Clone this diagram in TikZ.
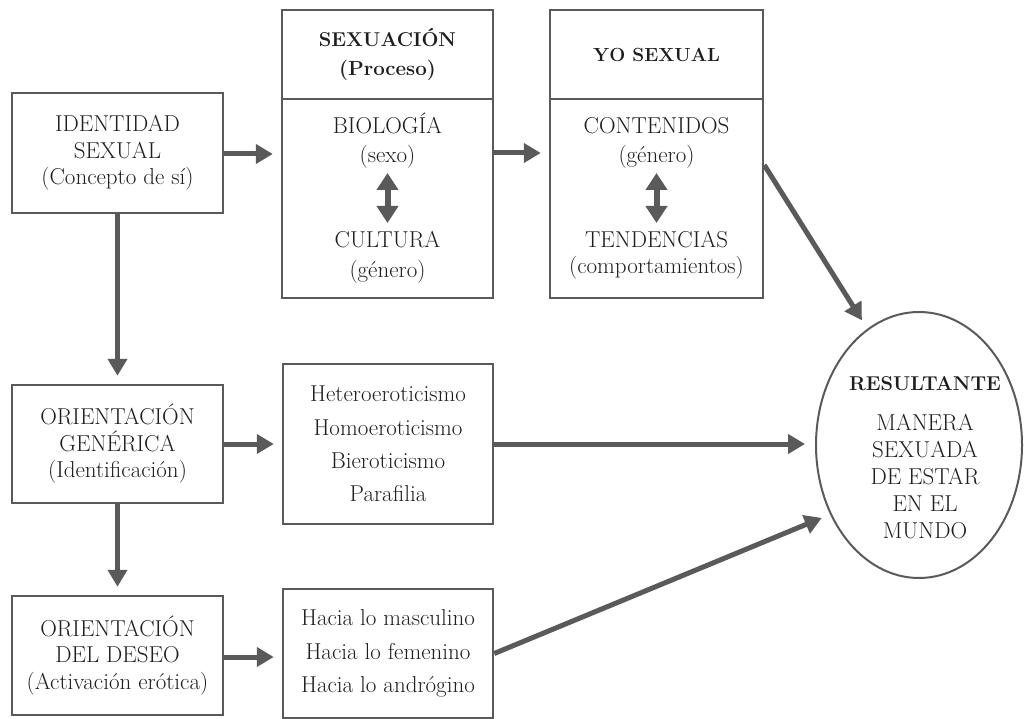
\documentclass[tikz,border=0pt]{standalone}
\usepackage{fontspec}
\usetikzlibrary{arrows.meta,shapes.geometric}
\definecolor{ln}{HTML}{5A5A5A}
\definecolor{tx}{HTML}{1E1E1E}
\begin{document}
\begin{tikzpicture}[x=1pt,y=-1pt,
  box/.style={draw=ln,line width=2.5pt,minimum width=211pt,inner sep=0pt,align=center,text=tx,font=\fontsize{23}{26.5}\selectfont},
  txt/.style={inner sep=0pt,align=center,text=tx,font=\fontsize{23}{26.5}\selectfont},
  arr/.style={draw=ln,line width=5pt,-{Triangle[length=17pt,width=19pt]},shorten >=8pt},
  darr/.style={draw=ln,line width=6pt,{Triangle[length=17pt,width=21pt]}-{Triangle[length=17pt,width=21pt]}},
]
\useasboundingbox (0,0) rectangle (1027,719);

% left column
\node[box,minimum height=120pt] (ids) at (117.5,153) {IDENTIDAD\\SEXUAL\\(Concepto de sí)};
\node[box,minimum height=118pt] (ogen) at (117.5,444) {ORIENTACIÓN\\GENÉRICA\\(Identificación)};
\node[box,minimum height=119pt] (odes) at (117.5,655.5) {ORIENTACIÓN\\DEL DESEO\\(Activación erótica)};

% SEXUACION
\node[box,minimum height=89pt,font=\fontsize{20}{29}\selectfont\bfseries] (sexh) at (387.5,54.5) {SEXUACIÓN\\{\fontsize{20.5}{29}\selectfont (Proceso)}};
\node[box,minimum height=199pt] (sexb) at (387.5,198.5) {};
\node[txt,font=\fontsize{23}{29}\selectfont] (bio) at (387.5,140.5) {BIOLOGÍA\\(sexo)};
\node[txt,font=\fontsize{23}{30}\selectfont] (cult) at (387.5,257.4) {CULTURA\\(género)};
\coordinate (bioA) at (387.5,173);
\coordinate (bioB) at (387.5,223);
\draw[darr] (bioA) -- (bioB);

% YO SEXUAL
\node[box,minimum width=213pt,minimum height=89pt,font=\fontsize{19}{26}\selectfont\bfseries] (yoh) at (656.5,54.5) {YO SEXUAL};
\node[box,minimum width=213pt,minimum height=199pt] (yob) at (656.5,198.5) {};
\node[txt,font=\fontsize{23}{29}\selectfont] (cont) at (656.5,142.9) {CONTENIDOS\\(género)};
\node[txt,font=\fontsize{23}{26}\selectfont] (tend) at (656.5,255) {TENDENCIAS\\(comportamientos)};
\coordinate (yoA) at (656.5,173);
\coordinate (yoB) at (656.5,223);
\draw[darr] (yoA) -- (yoB);

% lists
\node[box,minimum width=210pt,minimum height=160pt,font=\fontsize{23}{33.3}\selectfont] (het) at (388,444) {Heteroeroticismo\\Homoeroticismo\\Bieroticismo\\Parafilia};
\node[box,minimum width=210pt,minimum height=129pt,font=\fontsize{23}{33.5}\selectfont] (hac) at (388,653.5) {Hacia lo masculino\\Hacia lo femenino\\Hacia lo andrógino};

% resultante
\node[ellipse,draw=ln,line width=2pt,minimum width=206pt,minimum height=266pt,inner sep=0pt] (res) at (919,445) {};
\node[txt,font=\fontsize{20}{26}\selectfont\bfseries] (resT) at (925,383.5) {RESULTANTE};
\node[txt,font=\fontsize{23}{27}\selectfont] (resB) at (925,476.6) {MANERA\\SEXUADA\\DE ESTAR\\EN EL\\MUNDO};

% connectors
\draw[arr] ([yshift=-1pt]ids.east) -- ([yshift=-1pt]ids.east -| sexb.west);
\draw[arr] (sexb.east |- ids.east) -- (yob.west |- ids.east);
\draw[arr] (ids.south) -- (ogen.north);
\draw[arr] (ogen.south) -- (odes.north);
\draw[arr] (ogen.east) -- (het.west |- ogen.east);
\draw[arr] ([yshift=-1.5pt]odes.east) -- ([yshift=-1.5pt]hac.west |- odes.east);
\draw[arr,shorten >=10pt] ([yshift=33.5pt]yob.east) -- (res.114);
\draw[arr,shorten >=10pt] (het.east) -- (het.east -| res.west);
\draw[arr,shorten >=9pt] (hac.east) -- (res.218);
\end{tikzpicture}
\end{document}
